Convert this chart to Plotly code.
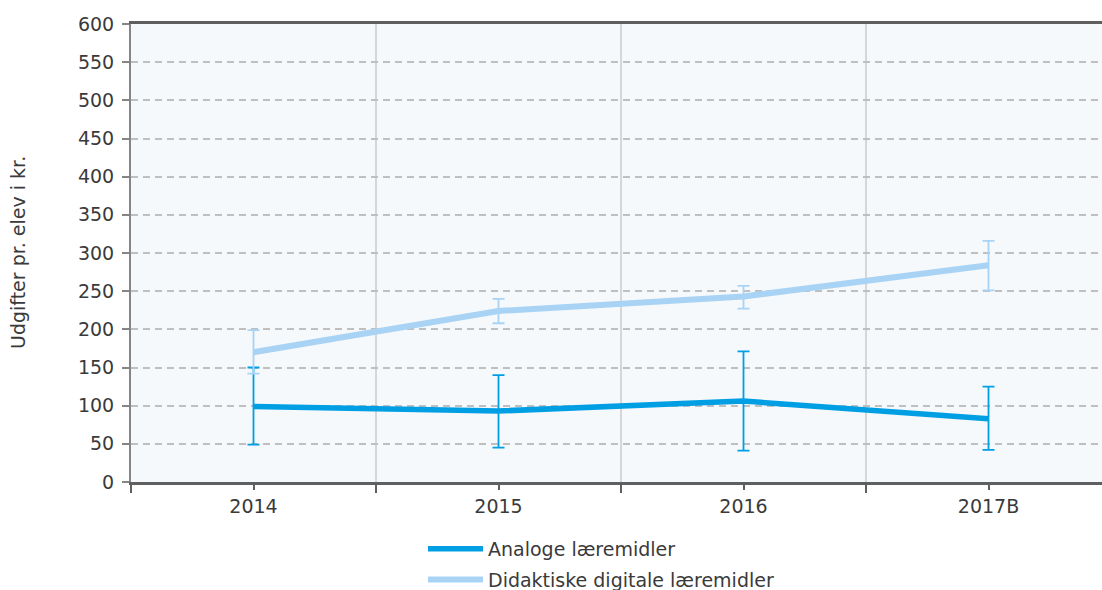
import plotly.graph_objects as go

categories = ["2014", "2015", "2016", "2017B"]
analoge = [99, 93, 106, 83]
analoge_hi = [150, 140, 171, 125]
analoge_lo = [49, 45, 41, 42]
digitale = [170, 224, 243, 284]
digitale_hi = [199, 240, 257, 316]
digitale_lo = [142, 208, 227, 251]

xs = list(range(len(categories)))
font = "DejaVu Sans, Verdana, sans-serif"
W, H = 1102, 590
L, R, T, B = 131, 0, 24, 108


def err(v, hi, lo, color):
    return dict(type="data", symmetric=False,
                array=[h - a for h, a in zip(hi, v)],
                arrayminus=[a - l for a, l in zip(v, lo)],
                color=color, thickness=1.8, width=6)


fig = go.Figure()
c1 = "#009fe3"
c2 = "#a9d3f4"
fig.add_trace(go.Scatter(x=xs, y=analoge, mode="lines", name="Analoge læremidler",
                         line=dict(color=c1, width=5.5), error_y=err(analoge, analoge_hi, analoge_lo, c1),
                         legendgroup="a"))
fig.add_trace(go.Scatter(x=xs, y=digitale, mode="lines", name="Didaktiske digitale læremidler",
                         line=dict(color=c2, width=6), error_y=err(digitale, digitale_hi, digitale_lo, c2),
                         legendgroup="b"))

pw = W - L - R
ph = H - T - B
fig.update_layout(
    width=W, height=H,
    margin=dict(l=L, r=R, t=T, b=B, pad=0, autoexpand=False),
    paper_bgcolor="white", plot_bgcolor="#f5f9fc",
    font=dict(family=font, size=19, color="#3a3a3a"),
    showlegend=True,
    legend=dict(orientation="v", x=(428 - L - 5) / pw, xanchor="left",
                y=-(530 - (H - B)) / ph, yanchor="top",
                font=dict(size=19, color="#3a3a3a"), tracegroupgap=3,
                itemwidth=55, bgcolor="rgba(0,0,0,0)"),
    annotations=[dict(text="Udgifter pr. elev i kr.", xref="paper", yref="paper",
                      x=(18 - L) / pw, y=0.5, xanchor="center", yanchor="middle",
                      textangle=-90, showarrow=False,
                      font=dict(size=19, color="#3a3a3a"))],
)
fig.update_xaxes(
    range=[-0.5, 3.5 - 9 / 245], tickmode="array", tickvals=xs, ticktext=categories,
    showgrid=False, zeroline=False, showline=True, linecolor="#5f5f5f", linewidth=2.5,
    mirror=True,
    ticks="outside", ticklen=5, tickcolor="#5f5f5f", tickwidth=1.5,
    tickfont=dict(size=19, color="#3a3a3a"),
    minor=dict(tickmode="array", tickvals=[-0.5, 0.5, 1.5, 2.5, 3.5], ticks="outside",
               ticklen=8, tickcolor="#5f5f5f", tickwidth=2,
               showgrid=True, gridcolor="#d6d6d6", gridwidth=1.5),
)
fig.update_yaxes(
    range=[0, 600], dtick=50, tick0=0,
    showgrid=True, gridcolor="#bfbfbf", griddash="7px,5px", gridwidth=1.5,
    zeroline=False, showline=True, linecolor="#858585", linewidth=2,
    ticks="outside", ticklen=7, tickcolor="#858585", tickwidth=1.5,
    ticklabelstandoff=4,
    tickfont=dict(size=19, color="#3a3a3a"),
)
fig.write_html("out.html", config={"displayModeBar": False},
               post_script="document.body.style.margin='0';document.body.style.overflow='hidden';")
